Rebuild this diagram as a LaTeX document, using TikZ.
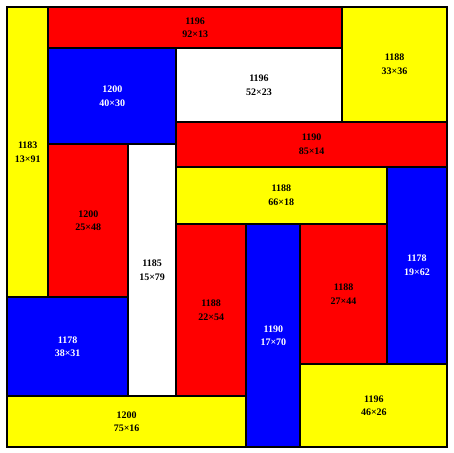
\documentclass[tikz,border=0pt]{standalone}
\usepackage{fontspec}
\setmainfont{Liberation Serif}
\usetikzlibrary{positioning}
\definecolor{mnyellow}{RGB}{255,255,0}
\definecolor{mnred}{RGB}{255,0,0}
\definecolor{mnblue}{RGB}{0,0,255}
\newcommand{\unitsz}{3.19pt}
\tikzset{
  tile/.style={
    draw=black, line width=2pt, inner sep=0pt, outer sep=0pt,
    anchor=north west, align=center,
    font=\bfseries\fontsize{10}{13.5}\selectfont
  },
  ytile/.style={tile, fill=mnyellow},
  rtile/.style={tile, fill=mnred},
  btile/.style={tile, fill=mnblue, text=white},
  wtile/.style={tile, fill=white},
  dims/.style 2 args={minimum width=#1*\unitsz, minimum height=#2*\unitsz}
}

\begin{document}
\begin{tikzpicture}[x=\unitsz, y=-\unitsz]
  \useasboundingbox (-7pt,7pt) rectangle (446pt,-446pt);
  % top band
  \node[ytile, dims={13}{91}] (y13x91) at (0,0) {1183\\13×91};
  \node[rtile, dims={92}{13}] (r92x13) at (13,0) {1196\\92×13};
  \node[ytile, dims={33}{36}] (y33x36) at (105,0) {1188\\33×36};
  \node[btile, dims={40}{30}] (b40x30) at (13,13) {1200\\40×30};
  \node[wtile, dims={52}{23}] (w52x23) at (53,13) {1196\\52×23};
  \node[rtile, dims={85}{14}] (r85x14) at (53,36) {1190\\85×14};
  % middle
  \node[rtile, dims={25}{48}] (r25x48) at (13,43) {1200\\25×48};
  \node[wtile, dims={15}{79}] (w15x79) at (38,43) {1185\\15×79};
  \node[ytile, dims={66}{18}] (y66x18) at (53,50) {1188\\66×18};
  \node[btile, dims={19}{62}] (b19x62) at (119,50) {1178\\19×62};
  \node[rtile, dims={22}{54}] (r22x54) at (53,68) {1188\\22×54};
  \node[btile, dims={17}{70}] (b17x70) at (75,68) {1190\\17×70};
  \node[rtile, dims={27}{44}] (r27x44) at (92,68) {1188\\27×44};
  % bottom band
  \node[btile, dims={38}{31}] (b38x31) at (0,91) {1178\\38×31};
  \node[ytile, dims={75}{16}] (y75x16) at (0,122) {1200\\75×16};
  \node[ytile, dims={46}{26}] (y46x26) at (92,112) {1196\\46×26};
\end{tikzpicture}
\end{document}
